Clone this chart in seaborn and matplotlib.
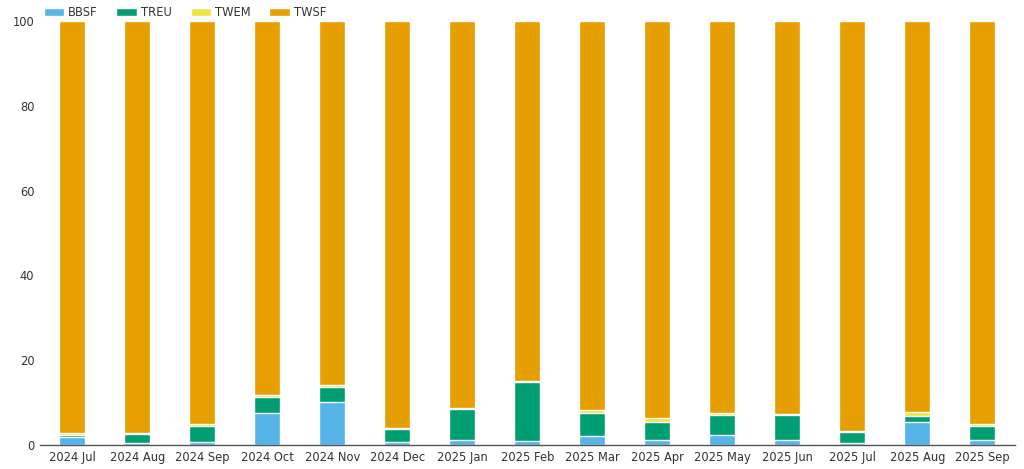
import pandas as pd
import matplotlib
matplotlib.use("Agg")
import matplotlib.pyplot as plt
import seaborn as sns

# Monthly share (%) per fund
months = ["2024 Jul", "2024 Aug", "2024 Sep", "2024 Oct", "2024 Nov", "2024 Dec",
          "2025 Jan", "2025 Feb", "2025 Mar", "2025 Apr", "2025 May", "2025 Jun",
          "2025 Jul", "2025 Aug", "2025 Sep"]
bbsf = [1.8, 0.5, 0.8, 7.6, 10.1, 0.8, 1.3, 1.0, 2.1, 1.3, 2.4, 1.3, 0.5, 5.4, 1.3]
treu = [0.6, 2.0, 3.8, 3.8, 3.7, 2.9, 7.3, 13.9, 5.4, 4.2, 4.7, 5.8, 2.6, 1.5, 3.3]
twem = [0.4, 0.3, 0.4, 0.3, 0.3, 0.3, 0.2, 0.3, 0.8, 1.0, 0.4, 0.2, 0.2, 0.8, 0.3]
twsf = [97.2, 97.2, 95.0, 88.3, 85.9, 96.0, 91.2, 84.8, 91.7, 93.5, 92.5, 92.7, 96.7, 92.3, 95.1]

series = ["BBSF", "TREU", "TWEM", "TWSF"]
colors = {"BBSF": "#56B4E9", "TREU": "#009E73", "TWEM": "#F0E442", "TWSF": "#E69F00"}

df = pd.DataFrame({"month": months, "BBSF": bbsf, "TREU": treu, "TWEM": twem, "TWSF": twsf})

# cumulative tops for stacking
cum = df[series].cumsum(axis=1)
cum["month"] = df["month"]

sns.set_theme(style="white")
plt.rcParams["font.family"] = ["DejaVu Sans"]

fig = plt.figure(figsize=(10.24, 4.69), dpi=100)
ax = fig.add_axes([0.039, 0.051, 0.952, 0.904])

# draw tallest first so lower segments sit on top
for name in reversed(series):
    sns.barplot(data=cum, x="month", y=name, color=colors[name], width=0.4,
                edgecolor="white", linewidth=1, saturation=1, ax=ax, label=name)

ax.set_ylim(0, 100)
ax.set_xlim(-0.5, len(months) - 0.5)
ax.set_yticks([0, 20, 40, 60, 80, 100])
ax.set_xlabel("")
ax.set_ylabel("")
ax.tick_params(axis="both", length=0, labelsize=8.3, colors="#333333", pad=4)

for side in ["top", "right", "left"]:
    ax.spines[side].set_visible(False)
ax.spines["bottom"].set_color("#555555")
ax.spines["bottom"].set_linewidth(1)

# legend in data order
handles, labels = ax.get_legend_handles_labels()
order = [labels.index(s) for s in series]
ax.legend([handles[i] for i in order], series, loc="lower left",
          bbox_to_anchor=(-0.001, 0.995), ncol=4, frameon=False, fontsize=8.3,
          handlelength=1.75, handleheight=0.7, columnspacing=1.6, handletextpad=0.4,
          borderaxespad=0, labelcolor="#333333")

plt.savefig("out.png", dpi=100)
